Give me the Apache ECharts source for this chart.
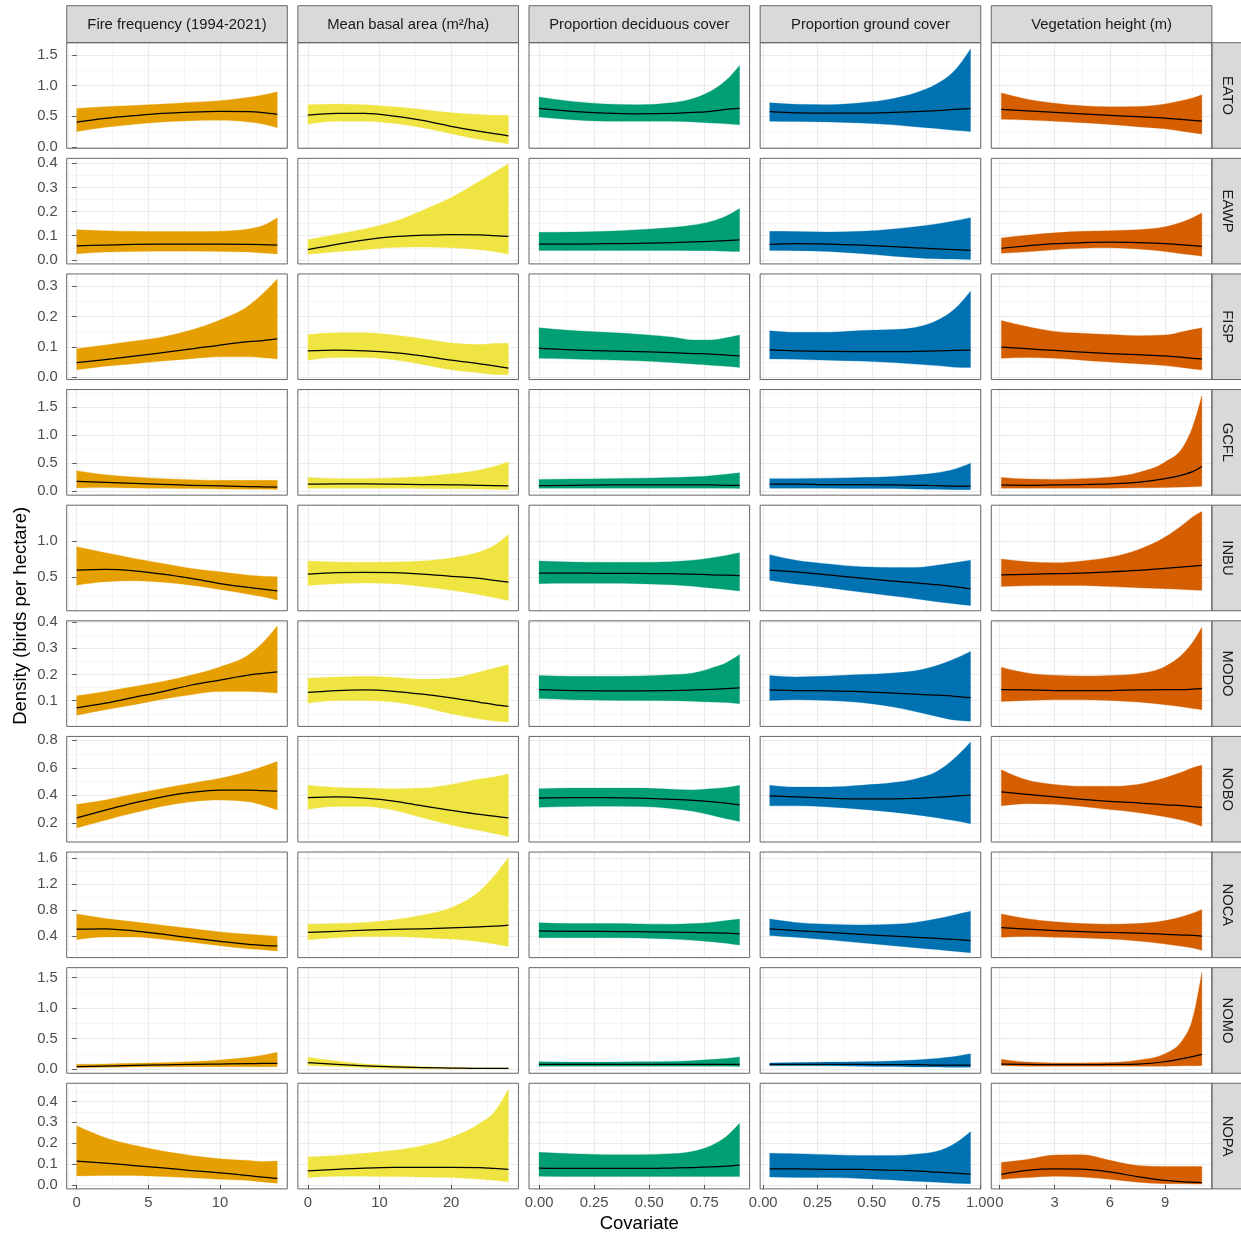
<!DOCTYPE html>
<html>
<head>
<meta charset="utf-8">
<script src="https://cdn.jsdelivr.net/npm/echarts@6/dist/echarts.min.js"></script>
<style>
html,body{margin:0;padding:0;background:#fff;}
#c{width:1241px;height:1238px;}
</style>
</head>
<body>
<div id="c"></div>
<script>
// ---------------- data ----------------
const covariates = ['Fire frequency (1994-2021)', 'Mean basal area (m\u00B2/ha)', 'Proportion deciduous cover', 'Proportion ground cover', 'Vegetation height (m)'];
const species = ['EATO', 'EAWP', 'FISP', 'GCFL', 'INBU', 'MODO', 'NOBO', 'NOCA', 'NOMO', 'NOPA'];
const colours = ['#E69F00', '#F0E442', '#009E73', '#0072B2', '#D55E00'];

// covariate values at which the curves are read
const xFire   = [0, 2, 4, 6, 8, 10, 12, 13, 14];
const xBasal  = [0, 4, 8, 12, 16, 20, 24, 26, 28];
const xDecid  = [0, 0.15, 0.3, 0.45, 0.6, 0.7, 0.78, 0.85, 0.91];
const xGround = [0.03, 0.15, 0.3, 0.45, 0.6, 0.7, 0.8, 0.88, 0.955];
const xVeg    = [0.1, 1.5, 3, 4.5, 6, 7.5, 9, 10, 10.5, 11];

// axis ticks / limits
const xTicks  = [[0, 5, 10], [0, 10, 20], [0, 0.25, 0.5, 0.75], [0, 0.25, 0.5, 0.75, 1], [0, 3, 6, 9]];
const xMinor  = [[2.5, 7.5, 12.5], [5, 15, 25], [0.125, 0.375, 0.625, 0.875], [0.125, 0.375, 0.625, 0.875], [1.5, 4.5, 7.5, 10.5]];
const xLimits = [[-0.7, 14.7], [-1.4, 29.4], [-0.0455, 0.9555], [-0.014, 1.002], [-0.445, 11.545]];
const yTicks  = [[0, 0.5, 1, 1.5], [0, 0.1, 0.2, 0.3, 0.4], [0, 0.1, 0.2, 0.3], [0, 0.5, 1, 1.5], [0.5, 1],
                 [0.1, 0.2, 0.3, 0.4], [0.2, 0.4, 0.6, 0.8], [0.4, 0.8, 1.2, 1.6], [0, 0.5, 1, 1.5], [0, 0.1, 0.2, 0.3, 0.4]];
const yMinor  = [[0.25, 0.75, 1.25], [0.05, 0.15, 0.25, 0.35], [0.05, 0.15, 0.25], [0.25, 0.75, 1.25, 1.75], [0.25, 0.75, 1.25],
                 [0.05, 0.15, 0.25, 0.35], [0.1, 0.3, 0.5, 0.7], [0.2, 0.6, 1.0, 1.4], [0.25, 0.75, 1.25], [0.05, 0.15, 0.25, 0.35, 0.45]];
const yLimits = [[-0.02, 1.70], [-0.017, 0.421], [-0.008, 0.341], [-0.07, 1.81], [0.028, 1.496],
                 [0.002, 0.405], [0.061, 0.829], [0.065, 1.693], [-0.07, 1.664], [-0.019, 0.487]];

// per species: [fire, basal, deciduous, ground, vegetation height]
const EATO_hi  = [[0.63,0.658,0.679,0.701,0.728,0.755,0.81,0.848,0.902],[0.69,0.70,0.69,0.655,0.613,0.559,0.529,0.517,0.517],[0.816,0.744,0.703,0.691,0.721,0.792,0.912,1.091,1.33],[0.72,0.697,0.691,0.72,0.792,0.882,1.031,1.24,1.598],[0.882,0.78,0.715,0.673,0.655,0.661,0.703,0.762,0.80,0.852]];
const EATO_mid = [[0.408,0.467,0.511,0.549,0.571,0.582,0.576,0.56,0.533],[0.52,0.547,0.547,0.506,0.434,0.338,0.255,0.219,0.183],[0.631,0.583,0.553,0.541,0.547,0.565,0.583,0.613,0.631],[0.577,0.559,0.553,0.553,0.565,0.577,0.595,0.613,0.625],[0.613,0.589,0.565,0.541,0.517,0.494,0.47,0.446,0.434,0.422]];
const EATO_lo  = [[0.255,0.321,0.37,0.408,0.429,0.435,0.408,0.375,0.315],[0.374,0.422,0.422,0.386,0.314,0.219,0.123,0.087,0.052],[0.488,0.446,0.422,0.422,0.422,0.41,0.392,0.38,0.362],[0.422,0.416,0.41,0.392,0.362,0.332,0.302,0.273,0.255],[0.452,0.44,0.422,0.398,0.368,0.332,0.297,0.255,0.234,0.213]];

const EAWP_hi  = [[0.125,0.121,0.118,0.117,0.117,0.119,0.128,0.142,0.174],[0.083,0.106,0.129,0.159,0.205,0.258,0.327,0.362,0.398],[0.114,0.115,0.118,0.125,0.134,0.144,0.159,0.182,0.213],[0.118,0.117,0.115,0.118,0.128,0.137,0.149,0.161,0.175],[0.091,0.102,0.112,0.118,0.121,0.125,0.137,0.159,0.175,0.194]];
const EAWP_mid = [[0.058,0.061,0.064,0.065,0.065,0.065,0.064,0.063,0.061],[0.042,0.064,0.083,0.096,0.102,0.105,0.103,0.1,0.097],[0.065,0.065,0.067,0.068,0.071,0.074,0.077,0.08,0.083],[0.064,0.067,0.065,0.061,0.055,0.05,0.045,0.042,0.039],[0.048,0.058,0.067,0.071,0.073,0.071,0.067,0.062,0.059,0.056]];
const EAWP_lo  = [[0.025,0.032,0.035,0.036,0.036,0.035,0.032,0.028,0.024],[0.023,0.033,0.042,0.051,0.053,0.05,0.042,0.035,0.023],[0.039,0.039,0.039,0.039,0.039,0.038,0.038,0.036,0.035],[0.039,0.038,0.035,0.026,0.015,0.009,0.004,0.003,0.001],[0.027,0.033,0.042,0.048,0.05,0.045,0.035,0.024,0.02,0.015]];

const FISP_hi  = [[0.094,0.106,0.119,0.133,0.156,0.189,0.236,0.276,0.324],[0.141,0.147,0.147,0.139,0.127,0.113,0.108,0.111,0.112],[0.163,0.154,0.148,0.142,0.133,0.123,0.123,0.13,0.139],[0.153,0.148,0.148,0.154,0.157,0.164,0.187,0.224,0.284],[0.187,0.167,0.151,0.145,0.141,0.137,0.139,0.151,0.157,0.163]];
const FISP_mid = [[0.048,0.058,0.069,0.081,0.093,0.106,0.117,0.121,0.126],[0.087,0.089,0.087,0.081,0.07,0.056,0.044,0.037,0.03],[0.095,0.09,0.087,0.084,0.081,0.078,0.076,0.073,0.07],[0.09,0.087,0.085,0.084,0.084,0.085,0.087,0.088,0.089],[0.099,0.094,0.088,0.083,0.078,0.074,0.07,0.065,0.062,0.06]];
const FISP_lo  = [[0.024,0.036,0.044,0.053,0.061,0.067,0.067,0.064,0.06],[0.056,0.065,0.065,0.057,0.042,0.024,0.014,0.009,0.008],[0.062,0.06,0.057,0.054,0.048,0.043,0.039,0.036,0.032],[0.06,0.059,0.056,0.053,0.048,0.043,0.038,0.033,0.032],[0.062,0.065,0.062,0.056,0.05,0.044,0.038,0.031,0.027,0.024]];

const GCFL_hi  = [[0.365,0.294,0.253,0.224,0.206,0.194,0.194,0.194,0.194],[0.243,0.224,0.224,0.237,0.263,0.309,0.38,0.439,0.524],[0.211,0.217,0.224,0.23,0.243,0.256,0.276,0.302,0.328],[0.224,0.224,0.23,0.243,0.263,0.289,0.328,0.393,0.50],[0.243,0.217,0.211,0.224,0.25,0.33,0.52,0.80,1.15,1.699]];
const GCFL_mid = [[0.176,0.159,0.141,0.124,0.106,0.094,0.082,0.076,0.071],[0.126,0.132,0.132,0.126,0.119,0.113,0.106,0.1,0.093],[0.1,0.106,0.113,0.113,0.113,0.113,0.113,0.106,0.106],[0.126,0.126,0.119,0.119,0.113,0.106,0.1,0.093,0.093],[0.113,0.106,0.113,0.119,0.132,0.158,0.224,0.296,0.348,0.44]];
const GCFL_lo  = [[0.059,0.065,0.059,0.053,0.047,0.041,0.035,0.035,0.029],[0.055,0.055,0.055,0.052,0.048,0.043,0.038,0.033,0.028],[0.054,0.054,0.054,0.054,0.054,0.054,0.054,0.052,0.048],[0.054,0.054,0.054,0.048,0.048,0.041,0.034,0.028,0.028],[0.054,0.054,0.054,0.054,0.054,0.06,0.067,0.074,0.08,0.087]];

const INBU_hi  = [[0.917,0.833,0.755,0.685,0.616,0.569,0.523,0.509,0.5],[0.721,0.706,0.701,0.706,0.721,0.762,0.849,0.935,1.088],[0.721,0.706,0.701,0.701,0.711,0.731,0.762,0.798,0.833],[0.808,0.731,0.68,0.64,0.629,0.629,0.66,0.696,0.731],[0.747,0.711,0.696,0.721,0.772,0.874,1.053,1.231,1.333,1.409]];
const INBU_mid = [[0.593,0.602,0.583,0.537,0.477,0.407,0.352,0.329,0.306],[0.538,0.558,0.563,0.558,0.538,0.507,0.477,0.451,0.426],[0.553,0.553,0.548,0.548,0.543,0.538,0.528,0.522,0.517],[0.594,0.568,0.528,0.482,0.441,0.415,0.39,0.364,0.334],[0.528,0.533,0.543,0.553,0.568,0.589,0.619,0.64,0.65,0.66]];
const INBU_lo  = [[0.384,0.431,0.444,0.426,0.384,0.324,0.259,0.222,0.176],[0.38,0.405,0.415,0.405,0.364,0.313,0.252,0.211,0.171],[0.405,0.41,0.41,0.405,0.39,0.369,0.344,0.324,0.303],[0.451,0.4,0.349,0.288,0.232,0.196,0.155,0.125,0.1],[0.364,0.375,0.38,0.38,0.364,0.349,0.334,0.324,0.318,0.313]];

const MODO_hi  = [[0.119,0.135,0.154,0.173,0.198,0.229,0.275,0.322,0.385],[0.186,0.191,0.193,0.189,0.182,0.186,0.21,0.224,0.238],[0.196,0.193,0.193,0.194,0.199,0.206,0.224,0.245,0.276],[0.196,0.191,0.194,0.2,0.206,0.214,0.234,0.259,0.288],[0.228,0.206,0.197,0.194,0.196,0.203,0.231,0.281,0.323,0.38]];
const MODO_mid = [[0.073,0.091,0.113,0.135,0.16,0.179,0.198,0.204,0.21],[0.132,0.139,0.141,0.136,0.125,0.111,0.094,0.085,0.078],[0.142,0.139,0.138,0.138,0.139,0.141,0.143,0.146,0.149],[0.141,0.139,0.138,0.135,0.129,0.125,0.121,0.117,0.112],[0.142,0.141,0.139,0.139,0.139,0.141,0.142,0.142,0.144,0.146]];
const MODO_lo  = [[0.045,0.066,0.085,0.106,0.123,0.135,0.135,0.133,0.129],[0.09,0.101,0.101,0.095,0.076,0.05,0.03,0.023,0.019],[0.108,0.104,0.102,0.101,0.1,0.098,0.095,0.093,0.088],[0.101,0.104,0.101,0.093,0.076,0.059,0.04,0.026,0.022],[0.097,0.101,0.104,0.104,0.101,0.095,0.085,0.076,0.07,0.066]];

const NOBO_hi  = [[0.334,0.366,0.41,0.451,0.488,0.524,0.575,0.61,0.646],[0.474,0.458,0.453,0.448,0.453,0.48,0.52,0.534,0.555],[0.448,0.453,0.453,0.453,0.445,0.44,0.448,0.458,0.474],[0.474,0.461,0.461,0.474,0.493,0.52,0.574,0.668,0.789],[0.587,0.512,0.48,0.466,0.466,0.48,0.528,0.574,0.601,0.619]];
const NOBO_mid = [[0.237,0.293,0.346,0.39,0.422,0.439,0.439,0.434,0.432],[0.383,0.389,0.38,0.359,0.324,0.292,0.262,0.249,0.236],[0.38,0.383,0.383,0.38,0.372,0.364,0.354,0.343,0.332],[0.397,0.389,0.38,0.375,0.375,0.378,0.386,0.394,0.402],[0.426,0.407,0.389,0.372,0.356,0.346,0.332,0.324,0.319,0.313]];
const NOBO_lo  = [[0.163,0.22,0.273,0.322,0.354,0.366,0.354,0.329,0.293],[0.3,0.319,0.319,0.292,0.238,0.185,0.144,0.123,0.099],[0.313,0.319,0.321,0.319,0.305,0.284,0.257,0.23,0.211],[0.324,0.324,0.316,0.3,0.278,0.26,0.238,0.217,0.193],[0.324,0.34,0.335,0.319,0.297,0.276,0.244,0.217,0.198,0.176]];

const NOCA_hi  = [[0.736,0.669,0.617,0.566,0.514,0.462,0.426,0.41,0.395],[0.579,0.591,0.608,0.648,0.722,0.836,1.093,1.322,1.607],[0.602,0.59,0.59,0.585,0.579,0.59,0.608,0.636,0.659],[0.659,0.608,0.579,0.568,0.579,0.608,0.665,0.722,0.779],[0.739,0.665,0.619,0.59,0.579,0.59,0.636,0.705,0.75,0.808]];
const NOCA_mid = [[0.503,0.509,0.478,0.426,0.369,0.317,0.271,0.255,0.245],[0.453,0.471,0.488,0.499,0.51,0.522,0.539,0.55,0.568],[0.476,0.471,0.471,0.465,0.459,0.453,0.448,0.442,0.431],[0.51,0.482,0.453,0.425,0.396,0.379,0.362,0.345,0.328],[0.528,0.505,0.482,0.465,0.453,0.442,0.425,0.413,0.408,0.396]];
const NOCA_lo  = [[0.343,0.384,0.384,0.348,0.302,0.25,0.203,0.188,0.167],[0.339,0.372,0.391,0.391,0.373,0.351,0.311,0.277,0.237],[0.373,0.373,0.373,0.368,0.351,0.333,0.311,0.288,0.259],[0.408,0.379,0.339,0.293,0.248,0.219,0.191,0.162,0.139],[0.379,0.391,0.379,0.368,0.351,0.322,0.276,0.236,0.214,0.179]];

const NOMO_hi  = [[0.077,0.082,0.093,0.104,0.12,0.148,0.192,0.224,0.274],[0.192,0.131,0.082,0.058,0.04,0.027,0.021,0.021,0.015],[0.119,0.113,0.113,0.119,0.125,0.137,0.155,0.173,0.198],[0.1,0.106,0.113,0.119,0.131,0.149,0.173,0.204,0.252],[0.161,0.113,0.1,0.1,0.106,0.143,0.252,0.496,0.83,1.591]];
const NOMO_mid = [[0.038,0.049,0.06,0.066,0.077,0.082,0.088,0.093,0.093],[0.106,0.076,0.052,0.033,0.021,0.015,0.009,0.009,0.009],[0.076,0.076,0.076,0.076,0.076,0.076,0.076,0.076,0.076],[0.076,0.076,0.076,0.076,0.07,0.07,0.064,0.064,0.064],[0.082,0.076,0.07,0.07,0.076,0.082,0.119,0.173,0.204,0.24]];
const NOMO_lo  = [[0.022,0.027,0.033,0.038,0.038,0.038,0.038,0.038,0.038],[0.058,0.04,0.021,0.009,0.004,0.003,0.003,0.003,0.003],[0.046,0.046,0.046,0.046,0.046,0.046,0.046,0.046,0.04],[0.052,0.052,0.052,0.046,0.04,0.033,0.033,0.027,0.027],[0.058,0.046,0.046,0.046,0.046,0.046,0.046,0.052,0.052,0.058]];

const NOPA_hi  = [[0.283,0.226,0.19,0.162,0.141,0.125,0.117,0.112,0.114],[0.134,0.141,0.152,0.166,0.188,0.227,0.295,0.348,0.459],[0.156,0.149,0.145,0.145,0.149,0.161,0.188,0.232,0.295],[0.152,0.149,0.145,0.141,0.141,0.147,0.161,0.197,0.255],[0.108,0.122,0.143,0.144,0.118,0.093,0.088,0.088,0.088,0.088]];
const NOPA_mid = [[0.114,0.104,0.093,0.082,0.069,0.058,0.045,0.037,0.031],[0.067,0.075,0.081,0.084,0.084,0.084,0.083,0.079,0.075],[0.081,0.079,0.079,0.079,0.081,0.083,0.086,0.09,0.095],[0.077,0.077,0.075,0.074,0.07,0.067,0.061,0.056,0.051],[0.051,0.07,0.077,0.076,0.062,0.04,0.022,0.015,0.013,0.011]];
const NOPA_lo  = [[0.043,0.045,0.045,0.04,0.034,0.027,0.021,0.014,0.008],[0.036,0.042,0.042,0.04,0.038,0.035,0.027,0.022,0.015],[0.042,0.04,0.04,0.04,0.04,0.04,0.04,0.04,0.04],[0.038,0.036,0.035,0.031,0.024,0.018,0.013,0.008,0.006],[0.027,0.035,0.042,0.038,0.027,0.013,0.006,0.005,0.004,0.004]];

// ---------------- build ----------------
const xValues = [xFire, xBasal, xDecid, xGround, xVeg];
const HI  = [EATO_hi, EAWP_hi, FISP_hi, GCFL_hi, INBU_hi, MODO_hi, NOBO_hi, NOCA_hi, NOMO_hi, NOPA_hi];
const MID = [EATO_mid, EAWP_mid, FISP_mid, GCFL_mid, INBU_mid, MODO_mid, NOBO_mid, NOCA_mid, NOMO_mid, NOPA_mid];
const LO  = [EATO_lo, EAWP_lo, FISP_lo, GCFL_lo, INBU_lo, MODO_lo, NOBO_lo, NOCA_lo, NOMO_lo, NOPA_lo];

const FONT = '"Liberation Sans", Arial, Helvetica, sans-serif';
const L0 = 66.7, PW = 220.6, PSX = 231.15;
const T0 = 42.7, PH = 105.6, PSY = 115.62;
const STRIP_TOP = 5.7, STRIP_W = 37;
const TICK_COL = '#555555', BORDER_COL = '#666666';

// monotone cubic (pixel space) bezier segments
function monoSegments(P) {
  const n = P.length, s = [], m = new Array(n);
  for (let i = 0; i < n - 1; i++) s.push((P[i + 1][1] - P[i][1]) / (P[i + 1][0] - P[i][0]));
  for (let i = 1; i < n - 1; i++) {
    const h0 = P[i][0] - P[i - 1][0], h1 = P[i + 1][0] - P[i][0];
    const s0 = s[i - 1], s1 = s[i];
    const p = (s0 * h1 + s1 * h0) / (h0 + h1);
    m[i] = (Math.sign(s0) + Math.sign(s1)) * Math.min(Math.abs(s0), Math.abs(s1), 0.5 * Math.abs(p)) || 0;
  }
  m[0] = n > 2 ? (3 * s[0] - m[1]) / 2 : s[0];
  m[n - 1] = n > 2 ? (3 * s[n - 2] - m[n - 2]) / 2 : s[n - 2];
  const segs = [];
  for (let i = 0; i < n - 1; i++) {
    const h = P[i + 1][0] - P[i][0];
    segs.push([[P[i][0] + h / 3, P[i][1] + m[i] * h / 3], [P[i + 1][0] - h / 3, P[i + 1][1] - m[i + 1] * h / 3], P[i + 1]]);
  }
  return segs;
}
function countItems(params, api) {
  let cnt = params.dataInsideLength || 0;
  if (!cnt) { while (cnt < 100 && !isNaN(api.value(0, cnt))) cnt++; }
  return cnt;
}
function makeBand(colour) {
  return function (params, api) {
    if (params.dataIndex !== 0) return null;
    const cnt = countItems(params, api);
    const up = [], dn = [];
    for (let j = 0; j < cnt; j++) {
      const x = api.value(0, j);
      up.push(api.coord([x, api.value(2, j)]));
      dn.push(api.coord([x, api.value(1, j)]));
    }
    let d = 'M' + up[0][0] + ',' + up[0][1];
    monoSegments(up).forEach(sg => { d += 'C' + sg[0][0] + ',' + sg[0][1] + ' ' + sg[1][0] + ',' + sg[1][1] + ' ' + sg[2][0] + ',' + sg[2][1]; });
    d += 'L' + dn[cnt - 1][0] + ',' + dn[cnt - 1][1];
    const sd = monoSegments(dn);
    for (let i = sd.length - 1; i >= 0; i--) {
      const sg = sd[i], st = dn[i];
      d += 'C' + sg[1][0] + ',' + sg[1][1] + ' ' + sg[0][0] + ',' + sg[0][1] + ' ' + st[0] + ',' + st[1];
    }
    d += 'Z';
    return { type: 'path', shape: { pathData: d }, style: { fill: colour, stroke: colour, lineWidth: 0.3 } };
  };
}
function makeMean() {
  return function (params, api) {
    if (params.dataIndex !== 0) return null;
    const cnt = countItems(params, api);
    const pts = [];
    for (let j = 0; j < cnt; j++) pts.push(api.coord([api.value(0, j), api.value(1, j)]));
    let d = 'M' + pts[0][0] + ',' + pts[0][1];
    monoSegments(pts).forEach(sg => { d += 'C' + sg[0][0] + ',' + sg[0][1] + ' ' + sg[1][0] + ',' + sg[1][1] + ' ' + sg[2][0] + ',' + sg[2][1]; });
    return { type: 'path', shape: { pathData: d }, style: { fill: null, stroke: '#000000', lineWidth: 1.25 } };
  };
}

const grids = [], xAxes = [], yAxes = [], series = [], graphics = [];
for (let r = 0; r < species.length; r++) {
  for (let c = 0; c < covariates.length; c++) {
    const k = r * covariates.length + c;
    const left = L0 + c * PSX, top = T0 + r * PSY;
    grids.push({ left: left, top: top, width: PW, height: PH, containLabel: false, outerBoundsMode: 'none' });
    const xfmt = (c === 2 || c === 3) ? (v => Number(v).toFixed(2)) : (v => String(v));
    xAxes.push({
      type: 'value', gridIndex: k, min: xLimits[c][0], max: xLimits[c][1], position: 'bottom',
      axisLine: { show: false },
      axisTick: { show: r === species.length - 1, length: 4.5, customValues: xTicks[c], lineStyle: { color: TICK_COL, width: 1 } },
      axisLabel: { show: r === species.length - 1, customValues: xTicks[c], formatter: xfmt, color: '#4D4D4D', fontSize: 14.8, fontFamily: FONT, margin: 7 },
      splitLine: { show: true, lineStyle: { color: '#EBEBEB', width: 1.1 } }
    });
    xAxes.push({
      type: 'value', gridIndex: k, min: xLimits[c][0], max: xLimits[c][1], position: 'top',
      axisLine: { show: false }, axisTick: { show: false, customValues: xMinor[c] }, axisLabel: { show: false },
      splitLine: { show: true, lineStyle: { color: '#F3F3F3', width: 0.8 } }
    });
    yAxes.push({
      type: 'value', gridIndex: k, min: yLimits[r][0], max: yLimits[r][1], position: 'left',
      axisLine: { show: false },
      axisTick: { show: c === 0, length: 4.5, customValues: yTicks[r], lineStyle: { color: TICK_COL, width: 1 } },
      axisLabel: { show: c === 0, customValues: yTicks[r], formatter: v => Number(v).toFixed(1), color: '#4D4D4D', fontSize: 14.8, fontFamily: FONT, margin: 9 },
      splitLine: { show: true, lineStyle: { color: '#EBEBEB', width: 1.1 } }
    });
    yAxes.push({
      type: 'value', gridIndex: k, min: yLimits[r][0], max: yLimits[r][1], position: 'right',
      axisLine: { show: false }, axisTick: { show: false, customValues: yMinor[r] }, axisLabel: { show: false },
      splitLine: { show: true, lineStyle: { color: '#F3F3F3', width: 0.8 } }
    });
    const xs = xValues[c], hi = HI[r][c], mid = MID[r][c], lo = LO[r][c];
    series.push({
      type: 'custom', coordinateSystem: 'cartesian2d', xAxisIndex: 2 * k, yAxisIndex: 2 * k,
      data: xs.map((x, i) => [x, lo[i], hi[i]]), encode: { x: 0, y: [1, 2] },
      renderItem: makeBand(colours[c]), silent: true, z: 2, clip: true
    });
    series.push({
      type: 'custom', coordinateSystem: 'cartesian2d', xAxisIndex: 2 * k, yAxisIndex: 2 * k,
      data: xs.map((x, i) => [x, mid[i]]), encode: { x: 0, y: 1 },
      renderItem: makeMean(), silent: true, z: 3, clip: true
    });
    graphics.push({ type: 'rect', silent: true, z: 100, shape: { x: left, y: top, width: PW, height: PH },
      style: { fill: 'none', stroke: BORDER_COL, lineWidth: 1 } });
  }
}
// top strips
for (let c = 0; c < covariates.length; c++) {
  const left = L0 + c * PSX;
  graphics.push({ type: 'rect', silent: true, z: 99, shape: { x: left, y: STRIP_TOP, width: PW, height: T0 - STRIP_TOP },
    style: { fill: '#D9D9D9', stroke: BORDER_COL, lineWidth: 1 } });
  graphics.push({ type: 'text', silent: true, z: 101, x: left + PW / 2, y: 24.6,
    style: { text: covariates[c], fill: '#1A1A1A', font: '14.8px ' + FONT, align: 'center', verticalAlign: 'middle', textAlign: 'center', textVerticalAlign: 'middle' } });
}
// right strips
const stripLeft = L0 + 4 * PSX + PW;
for (let r = 0; r < species.length; r++) {
  const top = T0 + r * PSY;
  graphics.push({ type: 'rect', silent: true, z: 99, shape: { x: stripLeft, y: top, width: STRIP_W, height: PH },
    style: { fill: '#D9D9D9', stroke: BORDER_COL, lineWidth: 1 } });
  graphics.push({ type: 'text', silent: true, z: 101, x: 1227, y: top + PH / 2, rotation: -Math.PI / 2,
    style: { text: species[r], fill: '#1A1A1A', font: '14.8px ' + FONT, align: 'center', verticalAlign: 'middle', textAlign: 'center', textVerticalAlign: 'middle' } });
}
// axis titles
graphics.push({ type: 'text', silent: true, z: 101, x: 21, y: (T0 + (T0 + 9 * PSY + PH)) / 2, rotation: Math.PI / 2,
  style: { text: 'Density (birds per hectare)', fill: '#000000', font: '18.5px ' + FONT, align: 'center', verticalAlign: 'middle', textAlign: 'center', textVerticalAlign: 'middle' } });
graphics.push({ type: 'text', silent: true, z: 101, x: (L0 + L0 + 4 * PSX + PW) / 2, y: 1224,
  style: { text: 'Covariate', fill: '#000000', font: '18.5px ' + FONT, align: 'center', verticalAlign: 'middle', textAlign: 'center', textVerticalAlign: 'middle' } });

const chart = echarts.init(document.getElementById('c'), null, { renderer: 'canvas' });
chart.setOption({
  animation: false,
  backgroundColor: '#ffffff',
  grid: grids,
  xAxis: xAxes,
  yAxis: yAxes,
  series: series,
  graphic: { elements: graphics }
});
</script>
</body>
</html>
